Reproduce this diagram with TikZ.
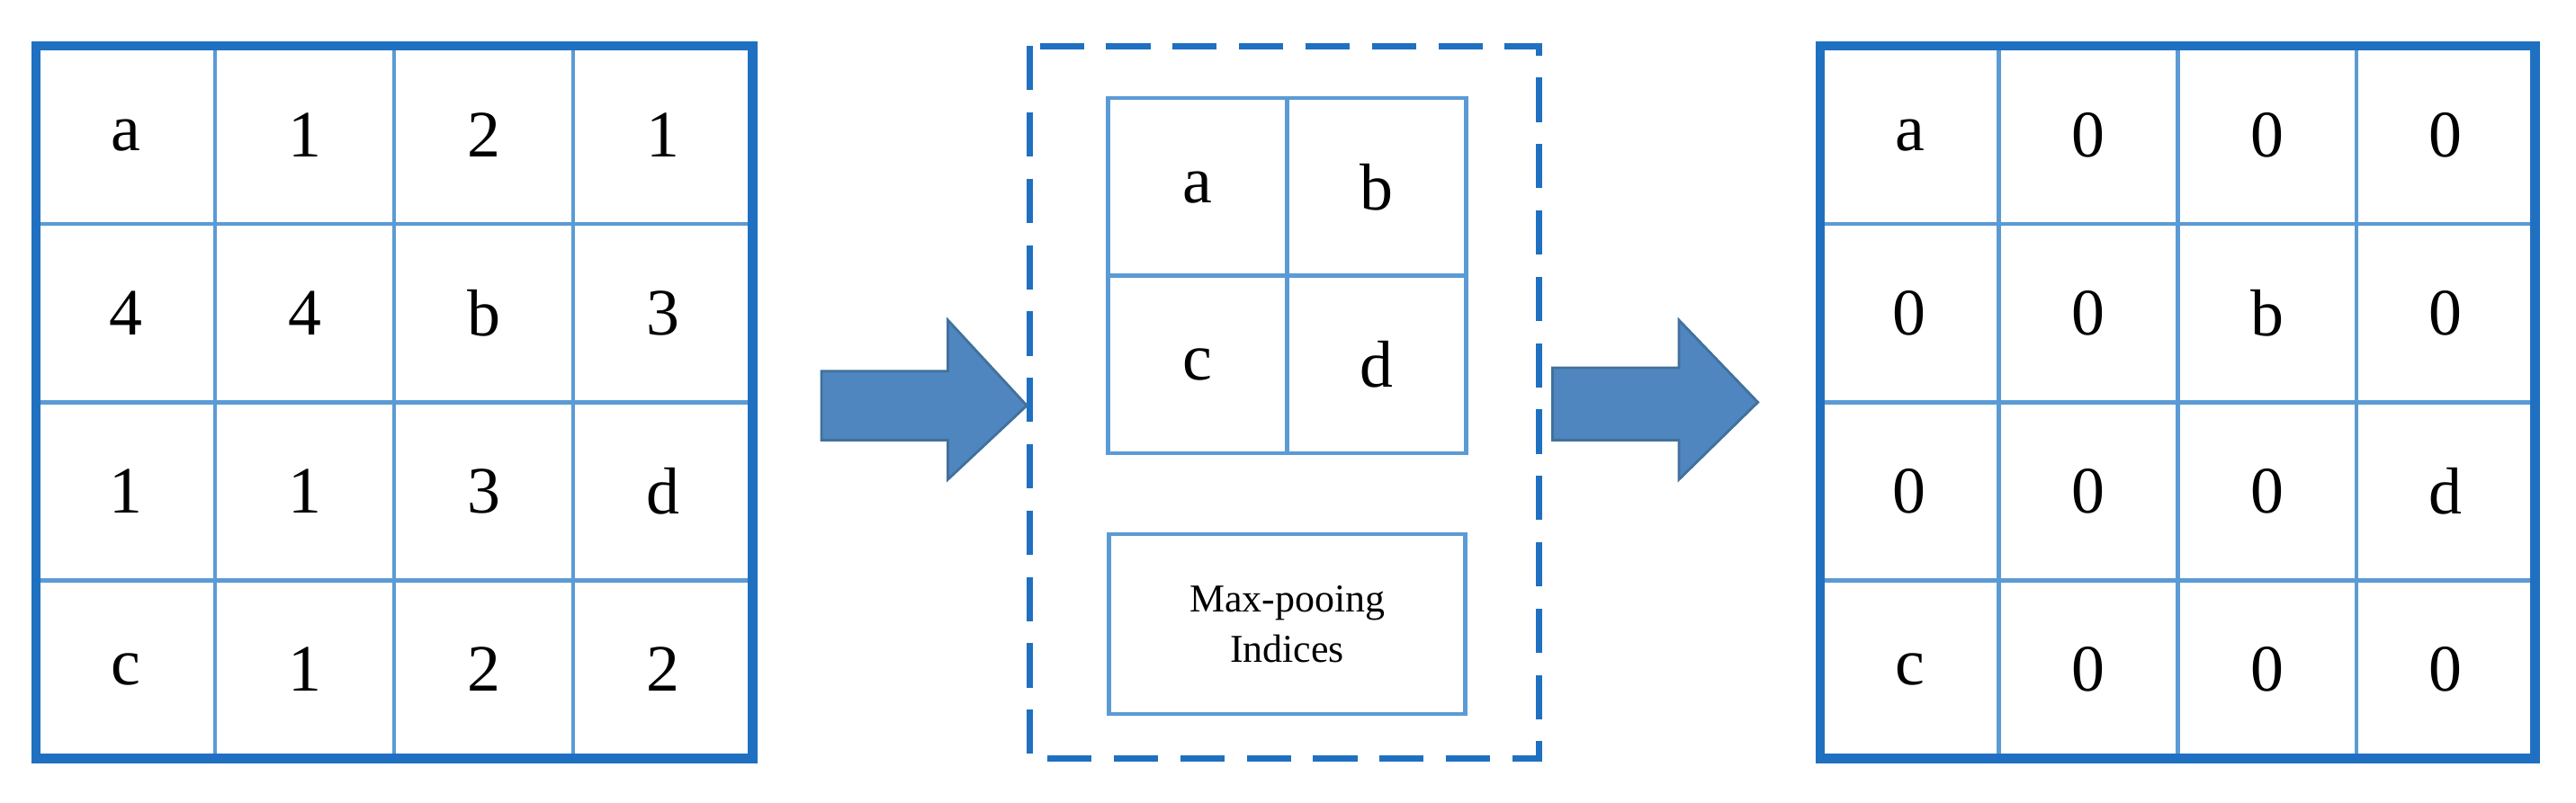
\documentclass[tikz,border=0pt]{standalone}
\usepackage{fontspec}
\setmainfont{Liberation Serif}
\usetikzlibrary{positioning}
\definecolor{frameblue}{HTML}{1F70C1}
\definecolor{cellblue}{HTML}{5B9BD5}
\definecolor{arrowfill}{HTML}{4F86C0}
\definecolor{arrowedge}{HTML}{41719C}
\tikzset{
  cell/.style={draw=cellblue,line width=1.2pt,minimum width=19.9mm,minimum height=19.8mm,inner sep=0pt,font=\fontsize{21}{25}\selectfont},
  frame/.style={draw=frameblue,line width=3pt},
  bigarrow/.style={fill=arrowfill,draw=arrowedge,line width=0.8pt}
}
\begin{document}
\begin{tikzpicture}[x=0.1826mm,y=-0.1826mm]
\useasboundingbox (0,0) rectangle (1568,489);
% left feature map
\def\rowA{{"a","1","2","1"}}
\foreach \r/\entries in {0/{a,1,2,1},1/{4,4,b,3},2/{1,1,3,d},3/{c,1,2,2}}{
  \foreach \v [count=\c from 0] in \entries
    \node[cell] (L\r\c) at ({22+54.5+109*\c},{28+54.25+108.5*\r}) {\v};
}
\draw[frame] (22,28) rectangle (458,462);
% right output map
\foreach \r/\entries in {0/{a,0,0,0},1/{0,0,b,0},2/{0,0,0,d},3/{c,0,0,0}}{
  \foreach \v [count=\c from 0] in \entries
    \node[cell] (R\r\c) at ({1108+54.4+108.75*\c},{28+54.25+108.5*\r}) {\v};
}
\draw[frame] (1108,28) rectangle (1543,462);
% pooled values and indices
\draw[frame,line width=2pt,dash pattern=on 14pt off 7pt] (627,28) rectangle (937,462);
\node[cell] (Pa) at (729,114) {a};
\node[cell] (Pb) at (838,114) {b};
\node[cell] (Pc) at (729,222) {c};
\node[cell] (Pd) at (838,222) {d};
\node[draw=cellblue,line width=1.2pt,minimum width=39.6mm,minimum height=20mm,align=center,font=\fontsize{12.5}{16}\selectfont] (idx) at (783.5,380) {Max-pooing\\Indices};
% arrows
\draw[bigarrow] (500,226) -- (577,226) -- (577,195) -- (625,247) -- (577,292) -- (577,268) -- (500,268) -- cycle;
\draw[bigarrow] (945,224) -- (1022,224) -- (1022,195) -- (1070,245) -- (1022,292) -- (1022,268) -- (945,268) -- cycle;
\end{tikzpicture}
\end{document}
